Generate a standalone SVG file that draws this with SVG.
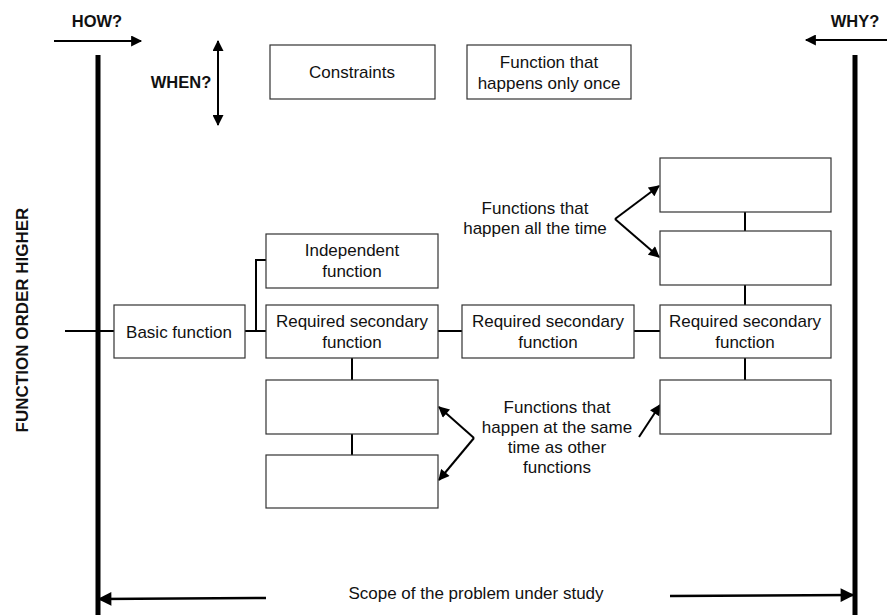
<svg xmlns="http://www.w3.org/2000/svg" width="887" height="615" viewBox="0 0 887 615">
<style>
text{font-family:"Liberation Sans",Arial,sans-serif;fill:#111;}
.t{font-size:17px;text-anchor:middle;}
.b{font-size:16.5px;font-weight:bold;text-anchor:middle;}
.v{font-size:17px;font-weight:bold;text-anchor:middle;}
.box{fill:#fff;stroke:#333;stroke-width:1.2;}
.ln{stroke:#000;stroke-width:2;fill:none;}
.ar{stroke:#000;stroke-width:2;fill:none;marker-end:url(#ah);}
.ar3{stroke:#000;stroke-width:2.5;fill:none;marker-end:url(#ah);}
.thick{stroke:#000;stroke-width:5;}
</style>
<defs>
<marker id="ah" viewBox="0 0 10 10" refX="9" refY="5" markerWidth="6" markerHeight="5.5" orient="auto-start-reverse" markerUnits="strokeWidth">
<path d="M0,0 L10,5 L0,10 z" fill="#000"/>
</marker>
</defs>
<rect width="887" height="615" fill="#fff"/>
<g id="frame">
<line class="thick" x1="98" y1="55" x2="98" y2="615"/>
<line class="thick" x1="855" y1="55" x2="855" y2="615"/>
</g>
<g id="labels">
<text class="b" x="97" y="27">HOW?</text>
<text class="b" x="855" y="27">WHY?</text>
<text class="b" x="181" y="88">WHEN?</text>
<text class="v" transform="translate(28,320) rotate(-90)">FUNCTION ORDER HIGHER</text>
<text class="t" x="535" y="214">Functions that</text>
<text class="t" x="535" y="234">happen all the time</text>
<text class="t" x="557" y="413">Functions that</text>
<text class="t" x="557" y="433">happen at the same</text>
<text class="t" x="557" y="453">time as other</text>
<text class="t" x="557" y="473">functions</text>
<text class="t" x="476" y="599">Scope of the problem under study</text>
</g>
<g id="connectors">
<line class="ar" x1="54" y1="41" x2="141" y2="41"/>
<line class="ar" x1="887" y1="40" x2="806" y2="40"/>
<line class="ar" x1="218" y1="82" x2="218" y2="41"/>
<line class="ar" x1="218" y1="82" x2="218" y2="125"/>
<line class="ar" x1="615" y1="219" x2="659" y2="186"/>
<line class="ar" x1="615" y1="219" x2="659" y2="257"/>
<line class="ar" x1="474" y1="438" x2="439" y2="407"/>
<line class="ar" x1="474" y1="438" x2="439" y2="480"/>
<line class="ar" x1="639" y1="437" x2="660" y2="405"/>
<line class="ar3" x1="266" y1="598" x2="99" y2="599"/>
<line class="ar3" x1="670" y1="596" x2="853" y2="595"/>
<line class="ln" x1="65" y1="331" x2="114" y2="331"/>
<line class="ln" x1="245" y1="331" x2="266" y2="331"/>
<polyline class="ln" points="256,331 256,260 266,260"/>
<line class="ln" x1="438" y1="331" x2="462" y2="331"/>
<line class="ln" x1="634" y1="331" x2="660" y2="331"/>
<line class="ln" x1="352" y1="358" x2="352" y2="380"/>
<line class="ln" x1="352" y1="434" x2="352" y2="455"/>
<line class="ln" x1="745" y1="212" x2="745" y2="231"/>
<line class="ln" x1="745" y1="285" x2="745" y2="305"/>
<line class="ln" x1="745" y1="358" x2="745" y2="380"/>
</g>
<g id="constraints"><rect class="box" x="270" y="45" width="165" height="54"/><text class="t" x="352" y="78">Constraints</text></g>
<g id="once"><rect class="box" x="467" y="45" width="164" height="54"/><text class="t" x="549" y="68">Function that</text><text class="t" x="549" y="89">happens only once</text></g>
<g id="top1"><rect class="box" x="660" y="158" width="171" height="54"/></g>
<g id="top2"><rect class="box" x="660" y="231" width="171" height="54"/></g>
<g id="independent"><rect class="box" x="266" y="234" width="172" height="54"/><text class="t" x="352" y="256">Independent</text><text class="t" x="352" y="277">function</text></g>
<g id="basic"><rect class="box" x="114" y="305" width="131" height="53"/><text class="t" x="179" y="338">Basic function</text></g>
<g id="req1"><rect class="box" x="266" y="305" width="172" height="53"/><text class="t" x="352" y="327">Required secondary</text><text class="t" x="352" y="348">function</text></g>
<g id="req2"><rect class="box" x="462" y="305" width="172" height="53"/><text class="t" x="548" y="327">Required secondary</text><text class="t" x="548" y="348">function</text></g>
<g id="req3"><rect class="box" x="660" y="305" width="171" height="53"/><text class="t" x="745" y="327">Required secondary</text><text class="t" x="745" y="348">function</text></g>
<g id="low1"><rect class="box" x="266" y="380" width="172" height="54"/></g>
<g id="low2"><rect class="box" x="266" y="455" width="172" height="53"/></g>
<g id="lowright"><rect class="box" x="660" y="380" width="171" height="54"/></g>
</svg>
